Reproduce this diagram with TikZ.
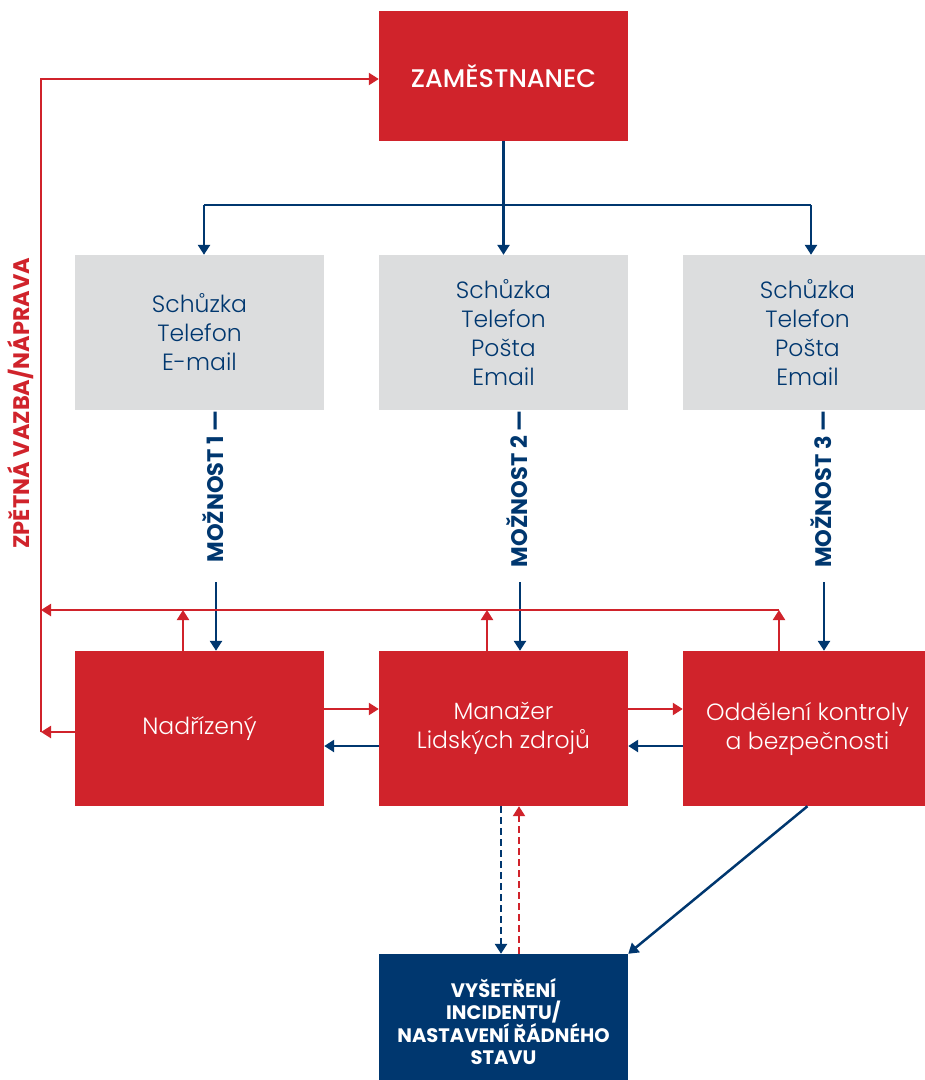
\documentclass[tikz,border=0pt]{standalone}
\usepackage{fontspec}
\setmainfont{Poppins}
\newfontfamily\poplight{Poppins Light}
\newfontfamily\popmed{Poppins Medium}
\usetikzlibrary{arrows.meta,calc}
\definecolor{cred}{HTML}{D0232B}
\definecolor{cblue}{HTML}{00376F}
\definecolor{cgray}{HTML}{DCDDDE}
\lineskiplimit=-30pt
\tikzset{
  box/.style={minimum width=249pt,minimum height=155pt,inner sep=0pt,align=center,font=\poplight\fontsize{23.5}{29}\selectfont},
  redbox/.style={box,fill=cred,text=white},
  graybox/.style={box,fill=cgray,text=cblue},
  bluebox/.style={box,fill=cblue,text=white,font=\fontsize{19.5}{22.3}\selectfont\bfseries},
  tip/.style={-{Triangle[length=10pt,width=12pt]}},
  bl/.style={draw=cblue,line width=2.5pt,tip},
  rl/.style={draw=cred,line width=2.2pt,tip},
  lab/.style={rotate=90,inner sep=0pt,font=\fontsize{22.5}{22.5}\selectfont\bfseries},
}
\begin{document}
\begin{tikzpicture}[x=1pt,y=-1pt]
\useasboundingbox (0,0) rectangle (925,1080);
% nodes
\node[redbox,minimum height=130pt,font=\popmed\fontsize{25.5}{28}\selectfont] (zam) at (503.5,76) {ZAMĚSTNANEC};
\node[graybox] (g1) at (199.5,332.5) {Schůzka\\Telefon\\E-mail};
\node[graybox] (g2) at (503.5,332.5) {Schůzka\\Telefon\\Pošta\\Email};
\node[graybox] (g3) at (807.5,332.5) {Schůzka\\Telefon\\Pošta\\Email};
\node[redbox] (r1) at (199.5,728.5) {Nadřízený};
\node[redbox] (r2) at (503.5,728.5) {Manažer\\Lidských zdrojů};
\node[redbox] (r3) at (807.5,728.5) {Oddělení kontroly\\a bezpečnosti};
\node[bluebox,minimum height=135pt] (inv) at (503.5,1021.5) {VYŠETŘENÍ\\INCIDENTU/\\NASTAVENÍ ŘÁDNÉHO\\STAVU};
% option labels
\node[lab,text=cblue,anchor=east] (m1) at (213.5,410) {MOŽNOST 1 —};
\node[lab,text=cblue,anchor=east] (m2) at (517.5,410) {MOŽNOST 2 —};
\node[lab,text=cblue,anchor=east] (m3) at (821.5,410) {MOŽNOST 3 —};
\node[lab,text=cred] (fb) at (21,403) {ZPĚTNÁ VAZBA/NÁPRAVA};
% top distribution
\coordinate (jl) at (204,205);
\coordinate (jr) at (811,205);
\draw[draw=cblue,line width=2.5pt] (jl) -- (jr);
\draw[bl] (zam.south) -- (g2.north);
\draw[bl] (jl) -- (jl |- g1.north);
\draw[bl] (jr) -- (jr |- g3.north);
% option arrows
\coordinate (a1) at (216,582);
\coordinate (a2) at (520,582);
\coordinate (a3) at (824,582);
\draw[bl] (a1) -- (a1 |- r1.north);
\draw[bl] (a2) -- (a2 |- r2.north);
\draw[bl] (a3) -- (a3 |- r3.north);
% feedback
\coordinate (fbL) at (41,610);
\coordinate (fbR) at (779,610);
\coordinate (fbTop) at (41,79);
\coordinate (fbBot) at (41,732);
\coordinate (u1) at (183,651);
\coordinate (u2) at (487,651);
\coordinate (u3) at (779,651);
\draw[rl] (fbR) -- (fbL);
\draw[rl] (u1) -- (u1 |- fbL);
\draw[rl] (u2) -- (u2 |- fbL);
\draw[rl] (u3) -- (fbR);
\draw[rl] (fbBot) -- (fbTop) -- (zam.west |- fbTop);
\draw[rl] (r1.west |- fbBot) -- (fbBot);
% between boxes
\draw[rl] ([yshift=19.5pt]r1.east) -- ([yshift=19.5pt]r2.west);
\draw[bl] ([yshift=-17.5pt]r2.west) -- ([yshift=-17.5pt]r1.east);
\draw[rl] ([yshift=19.5pt]r2.east) -- ([yshift=19.5pt]r3.west);
\draw[bl] ([yshift=-17.5pt]r3.west) -- ([yshift=-17.5pt]r2.east);
% to investigation
\draw[bl,dashed,dash pattern=on 7pt off 4pt] ([xshift=-2.5pt]r2.south) -- ([xshift=-2.5pt]inv.north);
\draw[rl,dashed,dash pattern=on 7pt off 4pt] ([xshift=15.5pt]inv.north) -- ([xshift=15.5pt]r2.south);
\draw[bl] (r3.south) -- (inv.north east);
\end{tikzpicture}
\end{document}
